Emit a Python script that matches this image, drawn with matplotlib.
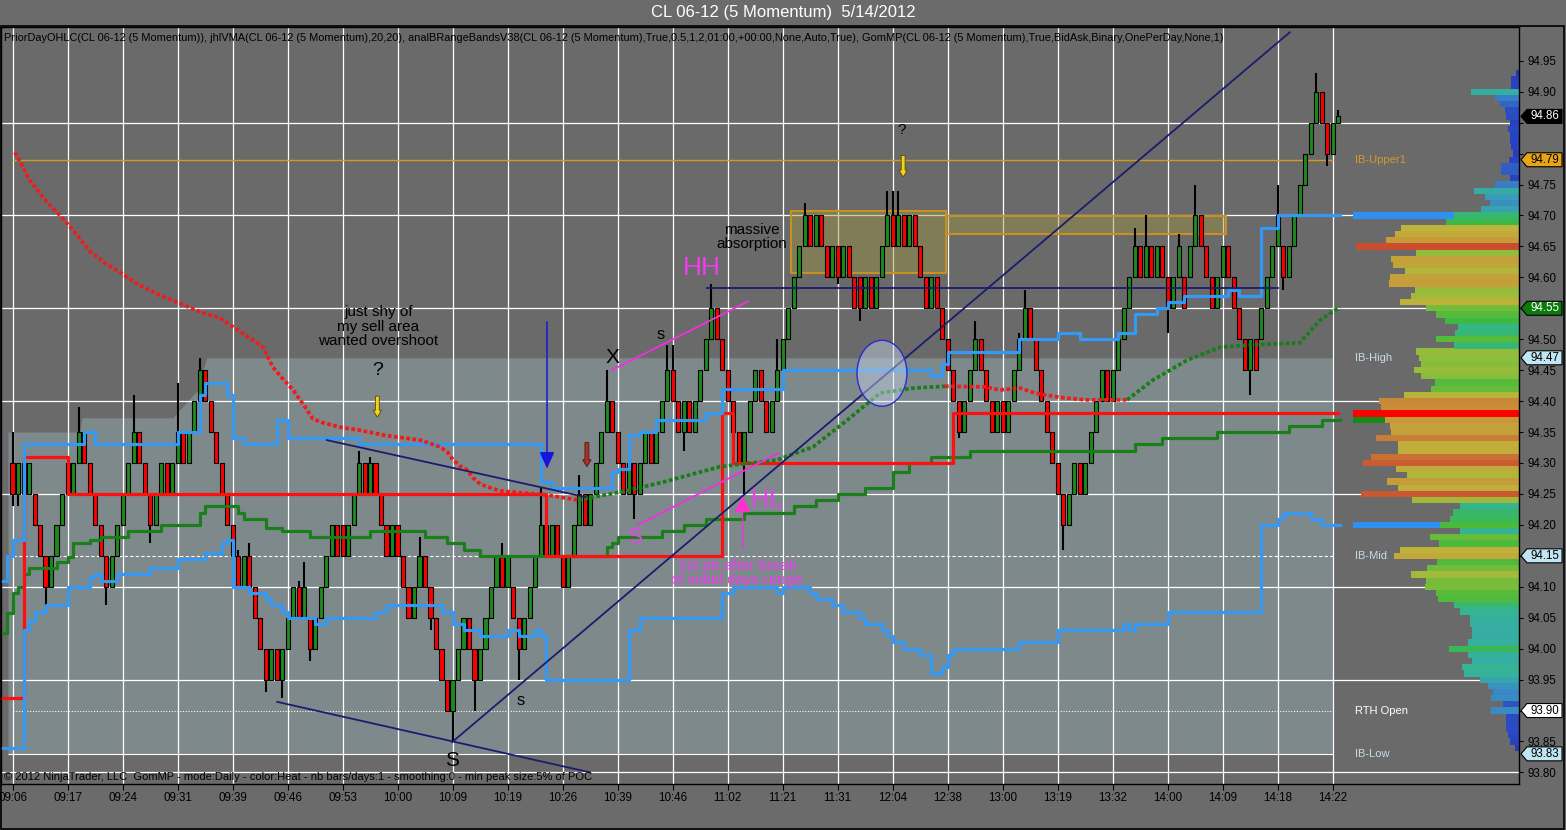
import re
import numpy as np
import matplotlib
matplotlib.use("Agg")
import matplotlib.pyplot as plt
from matplotlib.colors import LinearSegmentedColormap
from matplotlib.patches import Rectangle, Ellipse, Polygon

plt.rcParams['font.family'] = ['Liberation Sans', 'DejaVu Sans']
NARROW = ['Liberation Sans Narrow', 'Liberation Sans', 'DejaVu Sans']

# ---------------- data ----------------
title = "CL 06-12 (5 Momentum)  5/14/2012"
indicator_label = ("PriorDayOHLC(CL 06-12 (5 Momentum)), jhlVMA(CL 06-12 (5 Momentum),20,20), "
                   "analBRangeBandsV38(CL 06-12 (5 Momentum),True,0.5,1,2,01:00,+00:00,None,Auto,True), "
                   "GomMP(CL 06-12 (5 Momentum),True,BidAsk,Binary,OnePerDay,None,1)")
copyright_label = ("\u00a9 2012 NinjaTrader, LLC  GomMP - mode:Daily - color:Heat - nb bars/days:1 - "
                   "smoothing:0 - min peak size:5% of POC")

times = ["09:06", "09:17", "09:24", "09:31", "09:39", "09:46", "09:53", "10:00", "10:09",
         "10:19", "10:26", "10:39", "10:46", "11:02", "11:21", "11:31", "12:04", "12:38",
         "13:00", "13:19", "13:32", "14:00", "14:09", "14:18", "14:22"]

# momentum bars: G/R + body low in cents above 93.00, /close if partial, +upper wick, -lower wick
bar_blocks = [
    "R125+5-2 G125-2 R125 G125 R120 R115 R110-3 G110 G115 G120",
    "R125 G125 G130+4 R130 R125 R120 R115 R110-3 G110 G115",
    "G120 G125 G130+6 R130 R125 R120-3 G120 G125 R125 G125",
    "G130+8 R130 G130 G135 G140+2 R140 R135 R130 R125 R120",
    "R115 R110+1 G110 R110+2 R105 R100 R095-2 G095 R095 G095-3",
    "G100 G105 R105+1 G105+4 R100-2 G100 G105 G110 G115 R115",
    "R115 G115 G120 G125+2 R125 G125+1 R125 R120 R115 G115",
    "R115 R110 R105 G105 G110+3 R110 R105-2 R100 R095 R090",
    "G090-5 G095 G100 R100 R095-5 G095 G100 G105 G110 R110+2",
    "G110 R105 R100-5 G100 G105 G110 G115+6 R115 G115 R115",
    "R110 G110 G115 G120+3 R120 G120 G125 G130 G135+5 R135",
    "R130 R125 G125 R125-4 G125 G130 R130 G130 G135 G140+4",
    "R140+4 R135 G135-3 R135 G135 G140 G145 G150+4 R150 R145",
    "R140 R135 R130 G130-5 G135 G140 R140 R135 G135 G140+5",
    "G145 G150 G155 G160 G165+2 R165 G165 R165 R160 G160",
    "R160-1 G160 R160 R155 R155-2 G155 R155 G155 G160 G165+4",
    "R165+4 G165+4 R165 G165 R165 R160 R155 G155 R155 R150",
    "R145 R140 R135-1 G135 G140 G145+3 R145 R140 R135 G135",
    "R135 G135 G140 G145+1 G150+3 R150 R145 R140 R135 R130",
    "R125 R120-4 G120 G125 R125 G125 G130 G135 G140 R140",
    "G140 G145 G150 G155 G160+3 R160 G160+5 R160 G160 R160",
    "R155-4 G155 G160+2 R155 G160 G165+5 R165 R160 R155 G155",
    "G160 R160 R155 R150 R145 G145-4 R145 G150 G155 G160",
    "G165+5 R160-2 G160 G165 G170 G175 G180 G185+3 R185 R180-2",
    "G180 G185/186+1",
]

# step lines: (bar, price)
blue_upper = [(-3, 94.11), (-1, 94.15), (0, 94.175), (2, 94.33), (13, 94.35), (15, 94.33),
              (30, 94.35), (34, 94.41), (35, 94.43), (39, 94.41), (40, 94.34), (42, 94.33),
              (48, 94.37), (50, 94.34), (63, 94.33), (96, 94.27), (98, 94.26), (109, 94.285),
              (110, 94.29), (112, 94.345), (114, 94.35), (117, 94.37), (126, 94.38), (129, 94.42),
              (140, 94.45), (167, 94.44), (169, 94.46), (170, 94.48), (183, 94.50), (190, 94.51),
              (194, 94.50), (201, 94.51), (204, 94.54), (208, 94.55), (210, 94.56), (213, 94.57),
              (221, 94.58), (223, 94.57), (227, 94.68), (230, 94.70)]
blue_lower = [(-3, 93.84), (2, 94.03), (3, 94.045), (4, 94.06), (6, 94.07), (10, 94.10),
              (14, 94.115), (15, 94.12), (16, 94.11), (19, 94.12), (25, 94.13), (30, 94.145),
              (35, 94.155), (38, 94.17), (39, 94.175), (40, 94.10), (43, 94.09), (46, 94.08),
              (47, 94.07), (49, 94.06), (50, 94.05), (55, 94.04), (57, 94.05), (66, 94.06),
              (68, 94.07), (78, 94.06), (80, 94.04), (82, 94.03), (85, 94.02), (90, 94.03),
              (92, 94.02), (95, 94.03), (96, 94.02), (97, 93.95), (112, 94.03), (114, 94.05),
              (129, 94.09), (131, 94.10), (139, 94.09), (140, 94.10), (145, 94.09), (146, 94.08),
              (149, 94.07), (151, 94.06), (154, 94.05), (155, 94.04), (158, 94.03), (159, 94.02),
              (160, 94.01), (162, 94.00), (165, 93.99), (167, 93.96), (169, 93.97), (170, 93.99),
              (171, 94.00), (183, 94.01), (190, 94.03), (202, 94.04), (203, 94.03), (204, 94.04),
              (210, 94.06), (227, 94.20), (230, 94.21), (231, 94.22), (236, 94.21), (238, 94.20)]
green_line = [(-3, 94.025), (-1, 94.057), (0, 94.09), (1, 94.10), (2, 94.12), (3, 94.13),
              (8, 94.14), (10, 94.148), (11, 94.17), (14, 94.175), (16, 94.18), (21, 94.19),
              (27, 94.20), (34, 94.22), (35, 94.23), (41, 94.22), (42, 94.21), (46, 94.195),
              (49, 94.19), (54, 94.18), (65, 94.19), (75, 94.18), (79, 94.17), (82, 94.16),
              (85, 94.15), (108, 94.165), (109, 94.17), (110, 94.18), (118, 94.19), (122, 94.20),
              (126, 94.21), (133, 94.22), (142, 94.23), (146, 94.24), (150, 94.25), (155, 94.26),
              (160, 94.285), (163, 94.30), (167, 94.31), (174, 94.32), (204, 94.33), (209, 94.34),
              (219, 94.35), (232, 94.36), (238, 94.37)]
red_line = [(-3, 93.92), (2, 94.31), (10, 94.25), (97, 94.15), (129, 94.38), (131, 94.30),
            (171, 94.38)]

# dotted average, split by colour
dot_red1 = [(0.4, 94.802), (3.1, 94.757), (5.9, 94.725), (8.6, 94.70), (11.3, 94.673),
            (14.1, 94.641), (16.8, 94.623), (19.5, 94.608), (23.1, 94.587), (26.8, 94.571),
            (30.4, 94.558), (34.1, 94.544), (37.7, 94.534), (40.4, 94.518), (43.1, 94.502),
            (45.5, 94.487), (47.3, 94.455), (49.1, 94.436), (51.0, 94.418), (52.8, 94.395),
            (54.6, 94.371), (56.4, 94.365), (59.5, 94.358), (63.1, 94.353), (68.1, 94.344),
            (74.1, 94.337), (77.7, 94.326), (79.0, 94.318), (80.1, 94.305), (81.3, 94.295),
            (82.6, 94.289), (83.7, 94.276), (85.0, 94.266), (86.8, 94.26), (88.6, 94.255),
            (92.2, 94.252), (96.4, 94.249), (99.5, 94.245), (102.8, 94.24)]
dot_green1 = [(102.8, 94.24), (110.4, 94.253), (118.2, 94.269), (128.6, 94.294), (139.0, 94.305),
              (145.5, 94.326), (151.7, 94.369), (157.7, 94.413), (163.7, 94.421), (169.5, 94.424)]
dot_red2 = [(169.5, 94.424), (176.8, 94.423), (179.5, 94.418), (183.2, 94.421), (185.9, 94.413),
            (190.4, 94.406), (195.0, 94.402), (202.6, 94.402)]
dot_green2 = [(202.6, 94.402), (207.3, 94.434), (213.5, 94.466), (219.5, 94.487), (225.5, 94.491),
              (234.0, 94.494), (237.7, 94.531), (241.3, 94.552)]

navy_lines = [((48.1, 93.914), (105.0, 93.80)), ((57.1, 94.337), (104.1, 94.245)),
              ((79.9, 93.849), (232.2, 94.996)), ((126.2, 94.583), (230.1, 94.583))]
magenta_lines = [((108.9, 94.45), (133.7, 94.561)), ((113.7, 94.20), (139.2, 94.316))]

ib_top_bars = [-0.85, 12.2, 12.6, 29.1, 32.8, 34.0, 34.6, 35.3, 240.05]
ib_top_vals = [94.35, 94.35, 94.373, 94.373, 94.41, 94.42, 94.45, 94.47, 94.47]
ib_low = 93.83
ib_mid = 94.15
rth_open = 93.90
ib_upper1 = 94.79

# volume profile, one row per cent from 93.84 upward
prof_vol = [4, 9, 11, 13, 13, 13, 28, 16, 28, 26, 31, 39, 55, 57, 47, 51, 70, 51, 47, 47,
            49, 49, 59, 65, 81, 83, 94, 93, 108, 92, 82, 125, 119, 80, 89, 59, 79, 69, 66, 59,
            107, 158, 121, 132, 112, 123, 156, 148, 121, 121, 143, 128, 129, 134, 150, 138, 140, 115, 88, 84,
            98, 105, 98, 100, 103, 65, 83, 64, 61, 74, 83, 93, 119, 108, 104, 130, 129, 114, 126, 128,
            103, 163, 133, 124, 118, 73, 65, 38, 29, 34, 45, 24, 9, 18, 18, 10, 6, 8, 9, 9,
            11, 9, 13, 14, 19, 24, 48, 8, 8, 3]
prof_marks = [(94.70, '#2e90f0', 243.7, 262.1), (94.20, '#2e90f0', 243.7, 259.5),
              (94.38, '#ff0000', 243.7, 273.9), (94.37, '#168a16', 243.7, 249.5)]
prof_labels = [("IB-Upper1", 94.79, '#d49a2a'), ("IB-High", 94.47, '#c8dce6'),
               ("IB-Mid", 94.15, '#c8dce6'), ("RTH Open", 93.90, '#ffffff'),
               ("IB-Low", 93.83, '#c8dce6')]

tag_prices = [94.86, 94.79, 94.55, 94.47, 94.15, 93.90, 93.83]
tag_faces = ['#000000', '#e8a417', '#0b7a0b', '#bfe6f2', '#bfe6f2', '#ffffff', '#bfe6f2']
tag_texts = ['white', 'black', 'white', 'black', 'black', 'black', 'black']

# ---------------- parse bars ----------------
opens, closes, highs, lows = [], [], [], []
for tok in " ".join(bar_blocks).split():
    m = re.match(r"([GR])(\d{3})(?:/(\d{3}))?(?:\+(\d+))?(?:-(\d+))?$", tok)
    lo = 93 + int(m.group(2)) / 100
    hi = 93 + int(m.group(3)) / 100 if m.group(3) else lo + 0.05
    if m.group(1) == 'G':
        opens.append(lo); closes.append(hi)
    else:
        opens.append(hi); closes.append(lo)
    highs.append(hi + (int(m.group(4)) / 100 if m.group(4) else 0))
    lows.append(lo - (int(m.group(5)) / 100 if m.group(5) else 0))
opens, closes = np.array(opens), np.array(closes)
highs, lows = np.array(highs), np.array(lows)
n = len(opens)
xs = np.arange(n)

# ---------------- figure ----------------
W, H = 1566, 830
fig = plt.figure(figsize=(W / 100, H / 100), dpi=100, facecolor='#6b6b6b')
ax = fig.add_axes([1 / W, 1 - 784 / H, 1518 / W, 757 / H])
ax.set_facecolor('#6a6a6a')
x0, x1 = (1 - 12.7) / 5.5, (1519 - 12.7) / 5.5
y0, y1 = 93.7813, 95.0045
ax.set_xlim(x0, x1)
ax.set_ylim(y0, y1)

# initial balance shading and grid
ax.fill_between(ib_top_bars, ib_low, ib_top_vals, color='#7e898c', lw=0, zorder=0.2)
ax.hlines(np.round(np.arange(93.80, 94.86, 0.15), 2), x0, x1, color='white', lw=0.9, zorder=0.5)
ax.vlines(np.arange(0, 241, 10), y0, y1, color='white', lw=0.9, zorder=0.5)
ax.hlines([ib_low], -0.85, 240, color='white', lw=0.8, zorder=0.6)
ax.hlines([ib_mid], 0, 240, color='white', lw=0.8, linestyles=(0, (3, 2)), zorder=0.6)
ax.hlines([rth_open], 0, 240, color='white', lw=0.8, linestyles=(0, (1, 1.5)), zorder=0.6)
ax.hlines([ib_upper1], 0, 240, color='#d49a1a', lw=1.0, zorder=0.6)

# volume profile
heat = LinearSegmentedColormap.from_list('heat', [
    (0.0, '#2233b8'), (15 / 167, '#2d50c4'), (25 / 167, '#3a86c8'), (40 / 167, '#36a8ac'),
    (58 / 167, '#34b594'), (75 / 167, '#3cb93c'), (100 / 167, '#8cbd3a'), (118 / 167, '#bdb43a'),
    (135 / 167, '#c8963a'), (150 / 167, '#cc6a33'), (1.0, '#c8452e')])
prof_prices = np.round(93.84 + 0.01 * np.arange(len(prof_vol)), 2)
pw = np.array(prof_vol) / 5.5
ax.barh(prof_prices, pw, left=x1 - pw, height=0.0101,
        color=heat(np.array(prof_vol) / 167), lw=0, zorder=2)
for p, c, a, b in prof_marks:
    ax.barh(p, b - a, left=a, height=0.0101, color=c, lw=0, zorder=2.2)
for txt, p, c in prof_labels:
    ax.text(244.05, p, txt, color=c, fontsize=8, va='center', ha='left', zorder=6)

# boxes and ellipse
ax.add_patch(Rectangle((141.5, 94.607), 28.2, 0.100, fc='#9a9440', alpha=0.45, ec='none', zorder=2.5))
ax.add_patch(Rectangle((141.5, 94.607), 28.2, 0.100, fill=False, ec='#c8901e', lw=1.5, zorder=2.6))
ax.add_patch(Rectangle((169.7, 94.670), 50.9, 0.029, fc='#9a9440', alpha=0.45, ec='none', zorder=2.5))
ax.add_patch(Rectangle((169.7, 94.670), 50.9, 0.029, fill=False, ec='#c8901e', lw=1.5, zorder=2.6))

# candles
ax.vlines(xs, lows, highs, color='black', lw=1.5, zorder=3)
bcol = np.where(closes >= opens, '#1e8a1e', '#ff0000')
ax.bar(xs, np.abs(closes - opens), bottom=np.minimum(opens, closes), width=0.8,
       color=bcol, edgecolor='black', linewidth=0.8, zorder=3.5)


def draw_steps(pts, color, end, lw=2.3, z=4):
    sx = [p[0] for p in pts] + [end]
    sy = [p[1] for p in pts] + [pts[-1][1]]
    ax.step(sx, sy, where='post', color=color, lw=lw, zorder=z)


draw_steps(green_line, '#1a7f1a', 241.3, z=4.1)
draw_steps(red_line, '#ff1010', 241.0, z=4.2)
draw_steps(blue_lower, '#3399f5', 241.3, z=4.3)
draw_steps(blue_upper, '#3399f5', 241.3, z=4.3)

for seg, c in [(dot_red1, '#ee1c1c'), (dot_green1, '#1a7d1a'), (dot_red2, '#ee1c1c'), (dot_green2, '#1a7d1a')]:
    ax.plot([p[0] for p in seg], [p[1] for p in seg], color=c, lw=2.7,
            linestyle=(0, (1, 0.65)), dash_capstyle='butt', zorder=4.5)

for (a, b) in navy_lines:
    ax.plot([a[0], b[0]], [a[1], b[1]], color='#1c1c6e', lw=1.3, zorder=5)
for (a, b) in magenta_lines:
    ax.plot([a[0], b[0]], [a[1], b[1]], color='#f030e0', lw=1.3, zorder=5)

ax.add_patch(Ellipse((158.05, 94.445), 9.09, 0.1066, fc=(0.78, 0.84, 0.92, 0.45),
                     ec='#2a2ad0', lw=1, zorder=5))

# arrows and marks
arrow_simple = 'simple,head_width=0.6,head_length=0.5,tail_width=0.28'
ax.annotate('', xy=(66.3, 94.374), xytext=(66.3, 94.408), zorder=6,
            arrowprops=dict(arrowstyle=arrow_simple, fc='#f2d21c', ec='#5a4a00', lw=0.6,
                            shrinkA=0, shrinkB=0))
ax.annotate('', xy=(161.9, 94.762), xytext=(161.9, 94.797), zorder=6,
            arrowprops=dict(arrowstyle=arrow_simple, fc='#f2d21c', ec='#5a4a00', lw=0.6,
                            shrinkA=0, shrinkB=0))
ax.annotate('', xy=(104.4, 94.294), xytext=(104.4, 94.333), zorder=6,
            arrowprops=dict(arrowstyle=arrow_simple, fc='#a83228', ec='#5a1010', lw=0.6,
                            shrinkA=0, shrinkB=0))
ax.annotate('', xy=(97.15, 94.291), xytext=(97.15, 94.528), zorder=6,
            arrowprops=dict(arrowstyle='-|>,head_width=0.45,head_length=1.0', color='#1515e0',
                            lw=1.1, shrinkA=0, shrinkB=0))
ax.plot([132.6, 132.6], [94.22, 94.163], color='#f030e0', lw=1, zorder=6)
ax.plot(132.6, 94.234, marker='^', ms=10, color='#ff33cc', zorder=6)

# annotations
ax.text(66.5, 94.52, "just shy of\nmy sell area\nwanted overshoot", fontsize=11, ha='center',
        va='center', color='black', linespacing=1.05, zorder=6)
ax.text(66.4, 94.45, "?", fontsize=14, ha='center', va='center', color='black', zorder=6)
ax.text(134.4, 94.665, "massive\nabsorption", fontsize=11, ha='center', va='center',
        color='black', linespacing=1.0, zorder=6)
ax.text(125.3, 94.615, "HH", fontsize=19, ha='center', va='center', color='#f03cf0', zorder=6)
ax.text(109.0, 94.471, "X", fontsize=15, ha='center', va='center', color='black', zorder=6)
ax.text(117.9, 94.508, "s", fontsize=12, ha='center', va='center', color='black', zorder=6)
ax.text(113.3, 94.18, "S", fontsize=16, ha='center', va='center', color='#f03cf0', zorder=6)
ax.text(134.2, 94.24, "HL", fontsize=18, ha='left', va='center', color='#f03cf0', zorder=6)
ax.text(131.7, 94.122, "1st pb after break\nof initial days range", fontsize=11, ha='center',
        va='center', color='#f03cf0', linespacing=1.0, zorder=6)
ax.text(79.9, 93.82, "S", fontsize=15, ha='center', va='center', color='black', zorder=6)
ax.text(92.4, 93.917, "s", fontsize=12, ha='center', va='center', color='black', zorder=6)
ax.text(161.7, 94.838, "?", fontsize=11, ha='center', va='center', color='black', zorder=6)

# axes styling
for s in ax.spines.values():
    s.set_color('black')
    s.set_linewidth(1.0)
ax.yaxis.tick_right()
ytick_vals = np.round(np.arange(93.80, 94.951, 0.05), 2)
hidden = {round(p, 2) for p in tag_prices}
ax.set_yticks(ytick_vals)
ax.set_yticklabels(["" if v in hidden or round(v + 0.01, 2) in hidden or round(v - 0.01, 2) in hidden
                    else f"{v:.2f}" for v in ytick_vals])
ax.tick_params(axis='y', length=3, pad=3, labelsize=8.3, colors='black')
ax.set_xticks(np.arange(0, 241, 10))
ax.set_xticklabels(times)
ax.tick_params(axis='x', length=4.5, pad=1.5, labelsize=8.4, colors='black')
for lbl in ax.get_xticklabels():
    lbl.set_fontfamily(NARROW)

# price tags on the right axis
tr = ax.get_yaxis_transform()
def axx(px):
    return (px - 1) / 1518
hh = 7 / 618.9
for p, fc, tc in zip(tag_prices, tag_faces, tag_texts):
    poly = Polygon([(axx(1521), p), (axx(1527), p + hh), (axx(1562), p + hh),
                    (axx(1562), p - hh), (axx(1527), p - hh)], closed=True,
                   transform=tr, fc=fc, ec='black', lw=0.8, clip_on=False, zorder=10)
    ax.add_patch(poly)
    ax.text(axx(1545), p, f"{p:.2f}", transform=tr, color=tc, fontsize=8.3,
            ha='center', va='center', clip_on=False, zorder=11)

# header and footer texts
fig.text(783 / W, 1 - 12 / H, title, color='white', fontsize=12, ha='center', va='center',
         family=NARROW)
fig.text(4 / W, 1 - 38 / H, indicator_label, color='black', fontsize=7.95, ha='left',
         va='center', family=NARROW)
fig.text(4 / W, 1 - 777 / H, copyright_label, color='black', fontsize=8.05, ha='left',
         va='center', family=NARROW)
fig.patches.append(Rectangle((0.5 / W, 1 - 828.5 / H), 1563.5 / W, 802.5 / H, fill=False,
                             ec='black', lw=1.2, transform=fig.transFigure, figure=fig))

fig.savefig("out.png", dpi=100, facecolor=fig.get_facecolor())
